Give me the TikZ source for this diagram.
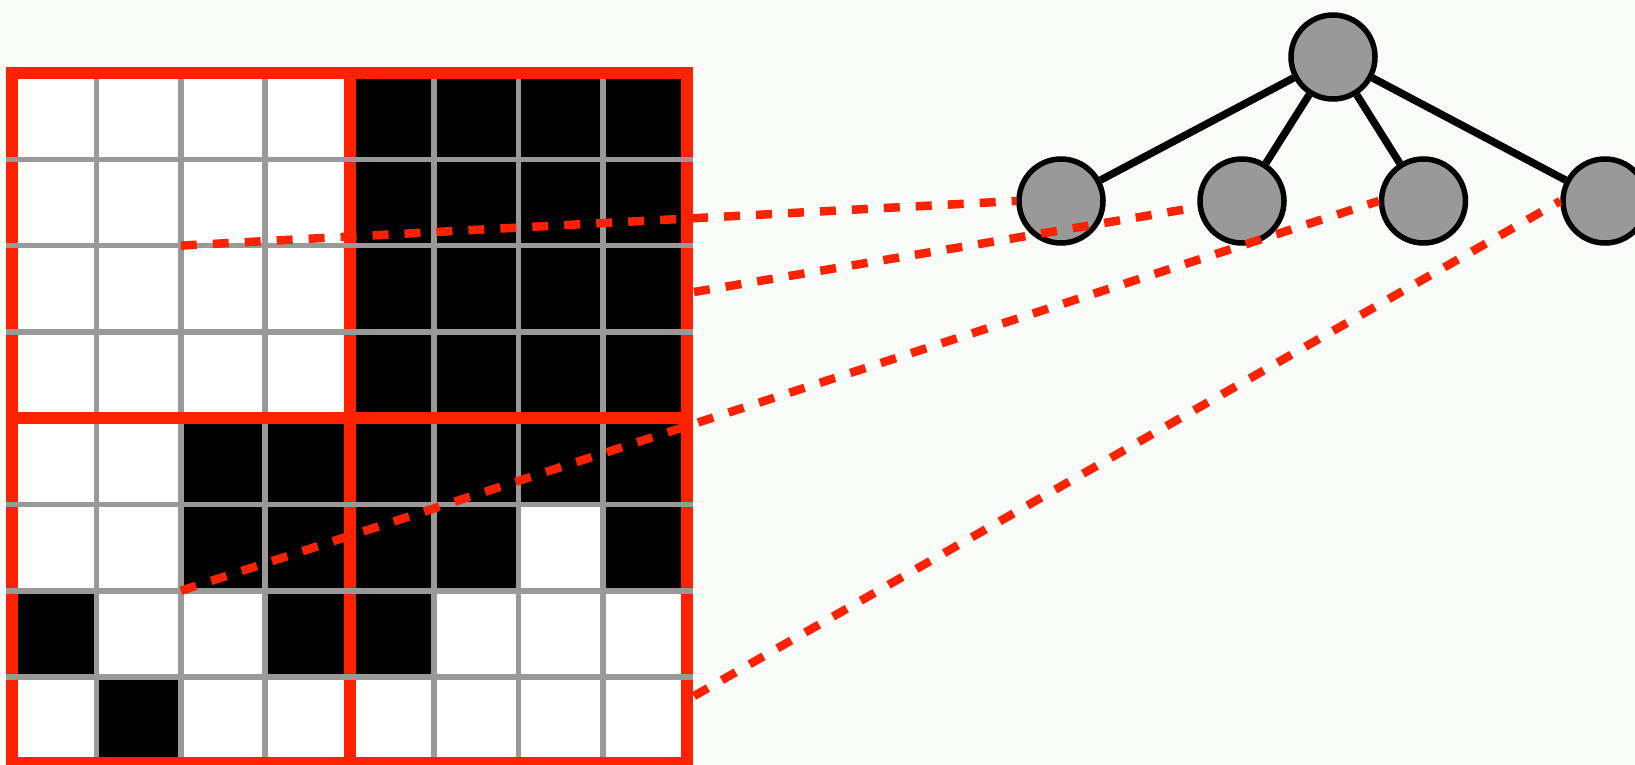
\documentclass[tikz,border=0pt]{standalone}
\definecolor{bg}{RGB}{250,252,250}
\definecolor{redl}{RGB}{255,34,0}
\definecolor{grayl}{RGB}{153,153,153}
\tikzset{
  grayline/.style={draw=grayl, line width=5.5pt},
  redline/.style={draw=redl, line width=12pt},
  treenode/.style={circle, draw=black, line width=5.5pt, fill=grayl, inner sep=0pt, minimum size=84pt},
  treeedge/.style={draw=black, line width=7.5pt},
  dashlink/.style={draw=redl, line width=8.5pt, dash pattern=on 16pt off 16pt}
}
\begin{document}
\begin{tikzpicture}[x=1pt,y=-1pt]
\useasboundingbox (0,0) rectangle (1635,765);
\clip (0,0) rectangle (1635,765);
\fill[bg] (0,0) rectangle (1635,765);
% grid cells
\fill[white] (12,73) rectangle ({12+84.4*8},{73+86.3*8});
\foreach \c/\r in {4/0,5/0,6/0,7/0, 4/1,5/1,6/1,7/1, 4/2,5/2,6/2,7/2, 4/3,5/3,6/3,7/3,
                   2/4,3/4,4/4,5/4,6/4,7/4, 2/5,3/5,4/5,5/5,7/5, 0/6,3/6,4/6, 1/7}
  \fill[black] ({12+84.4*\c},{73+86.3*\r}) rectangle ++(84.4,86.3);
% gray verticals
\foreach \i in {1,2,3,5,6,7}
  \draw[grayline] ({12+84.4*\i},73) -- ({12+84.4*\i},{73+86.3*8});
% red verticals
\foreach \i in {0,4,8}
  \draw[redline] ({12+84.4*\i},73) -- ({12+84.4*\i},{73+86.3*8});
% gray horizontals
\foreach \j in {1,2,3,5,6,7}
  \draw[grayline] (6,{73+86.3*\j}) -- (693.2,{73+86.3*\j});
% red horizontals
\foreach \j in {0,4,8}
  \draw[redline] (6,{73+86.3*\j}) -- (693.2,{73+86.3*\j});
% tree
\node[treenode] (r) at (1333,57) {};
\node[treenode] (c1) at (1061,201) {};
\node[treenode] (c2) at (1242,201) {};
\node[treenode] (c3) at (1423.5,201) {};
\node[treenode] (c4) at (1605,201) {};
\foreach \n in {c1,c2,c3,c4}
  \draw[treeedge] (r) -- (\n);
% anchor points on the grid
\coordinate (pA) at ({12+84.4*2},{73+86.3*2});
\coordinate (pB) at (694,292);
\coordinate (pC) at ({12+84.4*2},{73+86.3*6});
\coordinate (pD) at (694,696);
% dashed links
\draw[dashlink] (pA) -- (c1.west);
\draw[dashlink] (pB) -- (c2.188);
\draw[dashlink] (pC) -- (c3.west);
\draw[dashlink] (pD) -- (c4.west);
\end{tikzpicture}
\end{document}
